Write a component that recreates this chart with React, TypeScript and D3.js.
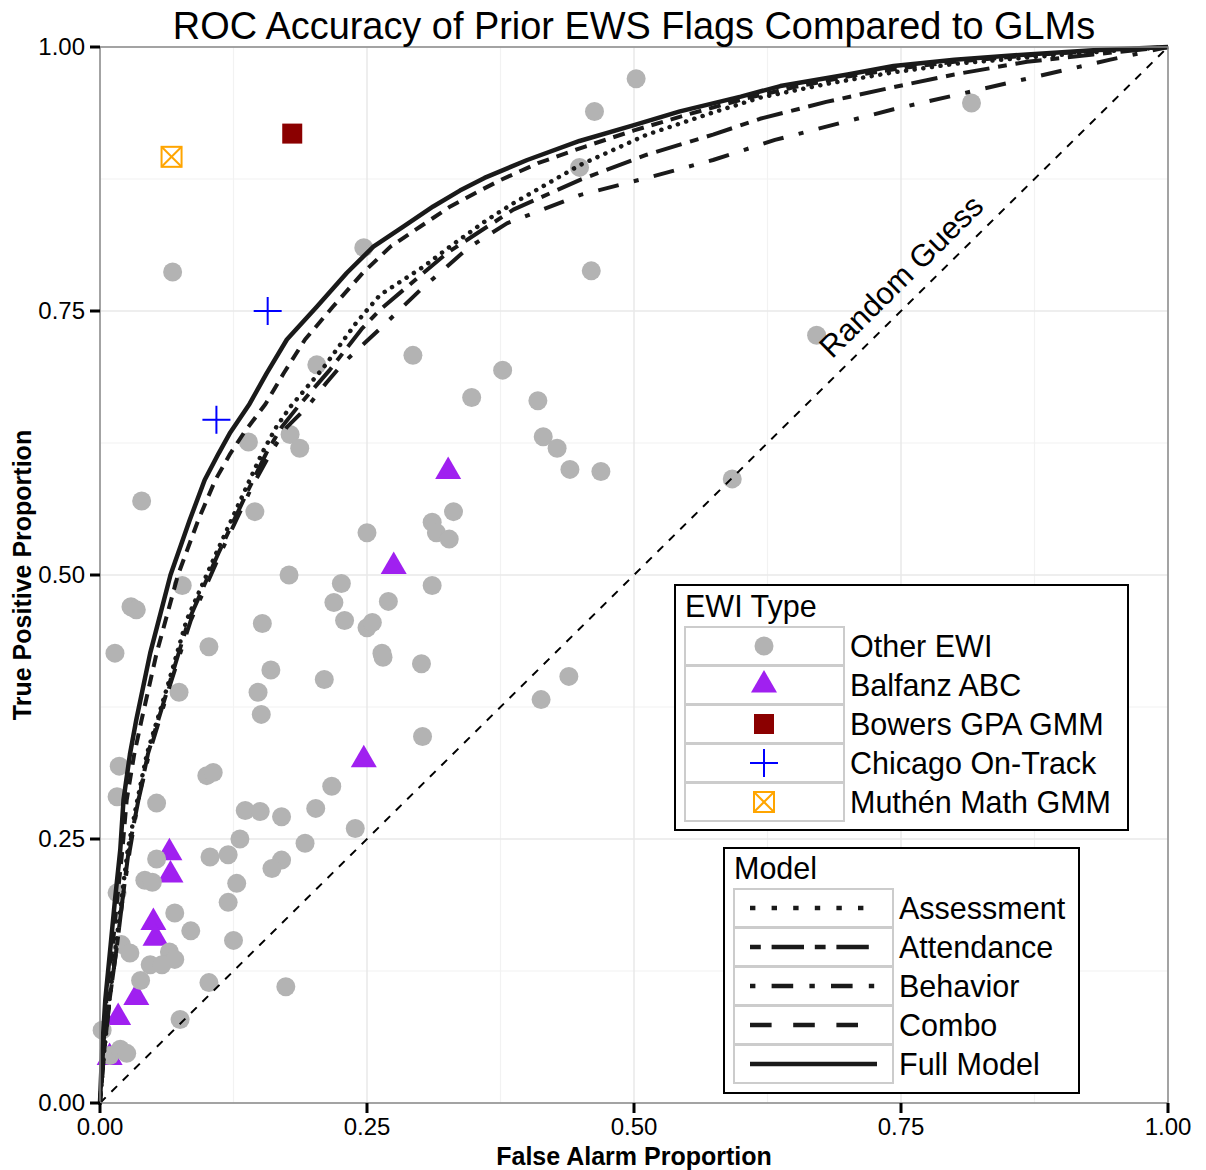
import React from 'react';
import * as d3 from 'd3';

// chart values
const otherEwi: [number, number][] = [
  [0.502, 0.97], [0.463, 0.939], [0.816, 0.947], [0.449, 0.886], [0.068, 0.787],
  [0.247, 0.81], [0.46, 0.788], [0.671, 0.727], [0.293, 0.708], [0.203, 0.699],
  [0.377, 0.694], [0.348, 0.668], [0.41, 0.665], [0.415, 0.631], [0.428, 0.62],
  [0.44, 0.6], [0.469, 0.598], [0.592, 0.591], [0.139, 0.626], [0.178, 0.633],
  [0.187, 0.62], [0.039, 0.57], [0.145, 0.56], [0.25, 0.54], [0.311, 0.55],
  [0.331, 0.56], [0.315, 0.54], [0.327, 0.534], [0.177, 0.5], [0.077, 0.49],
  [0.226, 0.492], [0.219, 0.474], [0.27, 0.475], [0.311, 0.49], [0.229, 0.457],
  [0.25, 0.45], [0.255, 0.455], [0.029, 0.47], [0.034, 0.467], [0.152, 0.454],
  [0.265, 0.422], [0.264, 0.426], [0.102, 0.432], [0.014, 0.426], [0.16, 0.41],
  [0.301, 0.416], [0.21, 0.401], [0.074, 0.389], [0.148, 0.389], [0.151, 0.368],
  [0.439, 0.404], [0.413, 0.382], [0.302, 0.347], [0.1, 0.31], [0.106, 0.313],
  [0.217, 0.3], [0.018, 0.319], [0.016, 0.29], [0.053, 0.284], [0.136, 0.277],
  [0.15, 0.276], [0.17, 0.271], [0.202, 0.279], [0.239, 0.26], [0.131, 0.25],
  [0.192, 0.246], [0.053, 0.231], [0.103, 0.233], [0.12, 0.235], [0.17, 0.23],
  [0.161, 0.222], [0.042, 0.211], [0.049, 0.209], [0.128, 0.208], [0.12, 0.19],
  [0.016, 0.199], [0.07, 0.18], [0.085, 0.163], [0.125, 0.154], [0.02, 0.15],
  [0.028, 0.142], [0.065, 0.143], [0.07, 0.136], [0.047, 0.131], [0.058, 0.131],
  [0.038, 0.116], [0.102, 0.114], [0.174, 0.11], [0.075, 0.079], [0.002, 0.069],
  [0.009, 0.045], [0.019, 0.051], [0.025, 0.047],
];
const balfanzAbc: [number, number][] = [
  [0.326, 0.598], [0.275, 0.508], [0.247, 0.325], [0.065, 0.237], [0.066, 0.216],
  [0.05, 0.171], [0.052, 0.156], [0.034, 0.1], [0.017, 0.081], [0.009, 0.043],
];
const bowersGpa: [number, number][] = [[0.18, 0.918]];
const chicagoOnTrack: [number, number][] = [[0.157, 0.75], [0.109, 0.647]];
const muthenMath: [number, number][] = [[0.067, 0.896]];

const assessmentRoc: [number, number][] = [
  [0, 0], [0.004, 0.05], [0.009, 0.098], [0.015, 0.15], [0.02, 0.192], [0.026, 0.24],
  [0.035, 0.287], [0.044, 0.331], [0.063, 0.394], [0.081, 0.457], [0.109, 0.521],
  [0.137, 0.583], [0.152, 0.616], [0.165, 0.64], [0.178, 0.659], [0.209, 0.696],
  [0.24, 0.739], [0.262, 0.765], [0.303, 0.792], [0.325, 0.809], [0.362, 0.836],
  [0.387, 0.852], [0.449, 0.888], [0.512, 0.917], [0.574, 0.938], [0.618, 0.952],
  [0.68, 0.965], [0.743, 0.976], [0.8, 0.984], [0.868, 0.99], [0.93, 0.995], [1, 1],
];
const attendanceRoc: [number, number][] = [
  [0, 0], [0.004, 0.05], [0.009, 0.098], [0.016, 0.15], [0.021, 0.192], [0.027, 0.24],
  [0.036, 0.287], [0.045, 0.331], [0.064, 0.394], [0.083, 0.457], [0.111, 0.521],
  [0.14, 0.583], [0.156, 0.616], [0.17, 0.64], [0.185, 0.659], [0.215, 0.694],
  [0.245, 0.733], [0.262, 0.751], [0.325, 0.805], [0.387, 0.846], [0.449, 0.874],
  [0.512, 0.898], [0.574, 0.917], [0.618, 0.932], [0.68, 0.948], [0.743, 0.962],
  [0.8, 0.974], [0.868, 0.986], [0.93, 0.993], [1, 1],
];
const behaviorRoc: [number, number][] = [
  [0, 0], [0.004, 0.05], [0.009, 0.098], [0.016, 0.15], [0.021, 0.192], [0.028, 0.24],
  [0.036, 0.287], [0.046, 0.331], [0.065, 0.394], [0.085, 0.457], [0.113, 0.521],
  [0.142, 0.583], [0.16, 0.616], [0.175, 0.64], [0.194, 0.659], [0.212, 0.682],
  [0.228, 0.701], [0.262, 0.733], [0.3, 0.77], [0.345, 0.81], [0.381, 0.833],
  [0.45, 0.86], [0.512, 0.876], [0.574, 0.893], [0.632, 0.912], [0.743, 0.941],
  [0.868, 0.97], [0.946, 0.988], [1, 1],
];
const comboRoc: [number, number][] = [
  [0, 0], [0.003, 0.05], [0.006, 0.098], [0.012, 0.15], [0.016, 0.192], [0.021, 0.24],
  [0.025, 0.287], [0.032, 0.33], [0.039, 0.363], [0.053, 0.426], [0.073, 0.5],
  [0.092, 0.552], [0.108, 0.59], [0.122, 0.615], [0.135, 0.635], [0.155, 0.662],
  [0.172, 0.691], [0.192, 0.723], [0.218, 0.754], [0.246, 0.786], [0.272, 0.811],
  [0.3, 0.83], [0.328, 0.849], [0.352, 0.862], [0.375, 0.874], [0.41, 0.89],
  [0.455, 0.906], [0.5, 0.921], [0.55, 0.936], [0.6, 0.95], [0.65, 0.962],
  [0.7, 0.972], [0.75, 0.98], [0.8, 0.986], [0.868, 0.992], [0.93, 0.996], [1, 1],
];
const fullRoc: [number, number][] = [
  [0, 0], [0.002, 0.05], [0.005, 0.098], [0.01, 0.15], [0.014, 0.192], [0.019, 0.24],
  [0.022, 0.287], [0.028, 0.33], [0.034, 0.363], [0.047, 0.426], [0.066, 0.5],
  [0.084, 0.552], [0.098, 0.59], [0.111, 0.615], [0.122, 0.635], [0.14, 0.662],
  [0.156, 0.691], [0.175, 0.723], [0.203, 0.754], [0.231, 0.786], [0.256, 0.811],
  [0.284, 0.83], [0.312, 0.849], [0.337, 0.864], [0.36, 0.876], [0.4, 0.893],
  [0.449, 0.911], [0.5, 0.926], [0.543, 0.939], [0.6, 0.953], [0.637, 0.963],
  [0.7, 0.974], [0.743, 0.982], [0.8, 0.988], [0.868, 0.993], [0.93, 0.997], [1, 1],
];

const ewiTypes = ['Other EWI', 'Balfanz ABC', 'Bowers GPA GMM', 'Chicago On-Track', 'Muthén Math GMM'];
const modelNames = ['Assessment', 'Attendance', 'Behavior', 'Combo', 'Full Model'];
const ticks = [0, 0.25, 0.5, 0.75, 1];
const minorTicks = [0.125, 0.375, 0.625, 0.875];

const W = 1206;
const H = 1170;
const FONT = "'Liberation Sans', Arial, Helvetica, sans-serif";
const INK = '#1a1a1a';

const x = d3.scaleLinear().domain([0, 1]).range([100, 1168]);
const y = d3.scaleLinear().domain([0, 1]).range([1103, 47]);
const fmt = d3.format('.2f');
const line = d3.line<[number, number]>().x((d) => x(d[0])).y((d) => y(d[1]));

const curves = [
  { name: 'Assessment', data: assessmentRoc, dash: '0.1 8.6', cap: 'round', width: 4.5, legendDash: '5.4 16.2' },
  { name: 'Attendance', data: attendanceRoc, dash: '8.8 8.8 26.5 8.8', cap: 'butt', width: 4, legendDash: '10.8 10.8 32.4 10.8' },
  { name: 'Behavior', data: behaviorRoc, dash: '5 15.6 21 15.6', cap: 'butt', width: 4, legendDash: '5.4 16.2 21.6 16.2' },
  { name: 'Combo', data: comboRoc, dash: '12 8', cap: 'butt', width: 4, legendDash: '21.6 21.6' },
  { name: 'Full Model', data: fullRoc, dash: undefined, cap: 'butt', width: 4.5, legendDash: undefined },
];

const triPath = d3.symbol(d3.symbolTriangle, 293)() || '';

// marker for each EWI type, drawn around (0,0)
const Marker: React.FC<{ type: string }> = ({ type }) => {
  if (type === 'Other EWI') return <circle r={9.5} fill="#b3b3b3" />;
  if (type === 'Balfanz ABC') return <path d={triPath} fill="#a020f0" />;
  if (type === 'Bowers GPA GMM') return <rect x={-10} y={-10} width={20} height={20} fill="#8b0000" />;
  if (type === 'Chicago On-Track')
    return (
      <g stroke="#0000ff" strokeWidth={2}>
        <line x1={-14} x2={14} y1={0} y2={0} />
        <line x1={0} x2={0} y1={-14} y2={14} />
      </g>
    );
  return (
    <g stroke="#ffa500" strokeWidth={2} fill="none">
      <rect x={-10} y={-10} width={20} height={20} />
      <line x1={-10} y1={-10} x2={10} y2={10} />
      <line x1={-10} y1={10} x2={10} y2={-10} />
    </g>
  );
};

const pointSets: { type: string; data: [number, number][] }[] = [
  { type: 'Balfanz ABC', data: balfanzAbc },
  { type: 'Other EWI', data: otherEwi },
  { type: 'Bowers GPA GMM', data: bowersGpa },
  { type: 'Chicago On-Track', data: chicagoOnTrack },
  { type: 'Muthén Math GMM', data: muthenMath },
];

const App: React.FC = () => {
  const diagAngle = (Math.atan2(y(0) - y(1), x(1) - x(0)) * 180) / Math.PI;
  const rgX = x(0.75);
  const rgY = y(0.783);

  return (
    <svg
      width={W}
      height={H}
      style={{ position: 'absolute', left: 0, top: 0, display: 'block', background: '#fff' }}
      fontFamily={FONT}
    >
      <rect width={W} height={H} fill="#fff" />

      {/* grid */}
      <g>
        {minorTicks.map((t) => (
          <g key={`mn-${t}`} stroke="#f2f2f2" strokeWidth={1.2}>
            <line x1={x(t)} x2={x(t)} y1={y(0)} y2={y(1)} />
            <line x1={x(0)} x2={x(1)} y1={y(t)} y2={y(t)} />
          </g>
        ))}
        {ticks.map((t) => (
          <g key={`mj-${t}`} stroke="#e8e8e8" strokeWidth={1.5}>
            <line x1={x(t)} x2={x(t)} y1={y(0)} y2={y(1)} />
            <line x1={x(0)} x2={x(1)} y1={y(t)} y2={y(t)} />
          </g>
        ))}
      </g>

      {/* points */}
      {pointSets.map((s) => (
        <g key={s.type}>
          {s.data.map((d, i) => (
            <g key={i} transform={`translate(${x(d[0])},${y(d[1])})`}>
              <Marker type={s.type} />
            </g>
          ))}
        </g>
      ))}

      {/* random guess line */}
      <line
        x1={x(0)}
        y1={y(0)}
        x2={x(1)}
        y2={y(1)}
        stroke="#000"
        strokeWidth={2}
        strokeDasharray="8 8"
      />
      <text
        x={rgX}
        y={rgY}
        transform={`rotate(${-diagAngle},${rgX},${rgY})`}
        textAnchor="middle"
        dy="0.35em"
        fontSize={31}
        fill="#000"
      >
        Random Guess
      </text>

      {/* ROC curves */}
      {curves.map((c) => (
        <path
          key={c.name}
          d={line(c.data) || ''}
          fill="none"
          stroke={INK}
          strokeWidth={c.width}
          strokeDasharray={c.dash}
          strokeLinecap={c.cap as any}
          strokeLinejoin="round"
        />
      ))}

      {/* panel border */}
      <rect
        x={x(0)}
        y={y(1)}
        width={x(1) - x(0)}
        height={y(0) - y(1)}
        fill="none"
        stroke="#8a8a8a"
        strokeWidth={1.5}
      />

      {/* axes */}
      <g stroke="#000" strokeWidth={3}>
        {ticks.map((t) => (
          <g key={`tk-${t}`}>
            <line x1={x(t)} x2={x(t)} y1={y(0)} y2={y(0) + 10} />
            <line x1={x(0) - 10} x2={x(0)} y1={y(t)} y2={y(t)} />
          </g>
        ))}
      </g>
      <g fontSize={24} fill="#000">
        {ticks.map((t) => (
          <text key={`xl-${t}`} x={x(t)} y={y(0) + 32} textAnchor="middle">
            {fmt(t)}
          </text>
        ))}
        {ticks.map((t) => (
          <text key={`yl-${t}`} x={x(0) - 15} y={y(t)} dy="0.35em" textAnchor="end">
            {fmt(t)}
          </text>
        ))}
      </g>
      <text x={x(0.5)} y={1165} textAnchor="middle" fontSize={25} fontWeight="bold">
        False Alarm Proportion
      </text>
      <text
        x={31}
        y={y(0.5)}
        transform={`rotate(-90,31,${y(0.5)})`}
        textAnchor="middle"
        fontSize={25}
        fontWeight="bold"
      >
        True Positive Proportion
      </text>
      <text x={x(0.5)} y={39} textAnchor="middle" fontSize={37.9}>
        ROC Accuracy of Prior EWS Flags Compared to GLMs
      </text>

      {/* EWI Type legend */}
      <g>
        <rect x={675} y={585} width={453} height={245} fill="#fff" stroke="#000" strokeWidth={2} />
        <text x={685} y={617} fontSize={30.5}>EWI Type</text>
        {ewiTypes.map((t, i) => {
          const ry = 627 + i * 39;
          return (
            <g key={t}>
              <rect x={685} y={ry} width={159} height={38} fill="#fff" stroke="#cccccc" strokeWidth={2} />
              <g transform={`translate(764,${ry + 19})`}>
                <Marker type={t} />
              </g>
              <text x={850} y={ry + 19} dy="0.36em" fontSize={30.5}>
                {t}
              </text>
            </g>
          );
        })}
      </g>

      {/* Model legend */}
      <g>
        <rect x={724} y={848} width={355} height={245} fill="#fff" stroke="#000" strokeWidth={2} />
        <text x={734} y={879} fontSize={30.5}>Model</text>
        {modelNames.map((m, i) => {
          const ry = 889 + i * 39;
          const c = curves.find((cc) => cc.name === m)!;
          return (
            <g key={m}>
              <rect x={734} y={ry} width={159} height={38} fill="#fff" stroke="#cccccc" strokeWidth={2} />
              <line
                x1={750}
                x2={877}
                y1={ry + 19}
                y2={ry + 19}
                stroke={INK}
                strokeWidth={4.5}
                strokeDasharray={c.legendDash}
              />
              <text x={899} y={ry + 19} dy="0.36em" fontSize={30.5}>
                {m}
              </text>
            </g>
          );
        })}
      </g>
    </svg>
  );
};

export default App;
